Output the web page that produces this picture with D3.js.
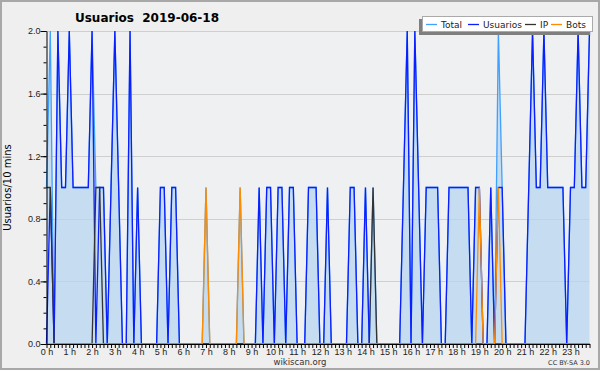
<!DOCTYPE html>
<html>
<head>
<meta charset="utf-8">
<script src="https://cdn.jsdelivr.net/npm/d3@7"></script>
<style>
  body { margin: 0; background: #efefef; }
  svg { display: block; font-family: "DejaVu Sans", sans-serif; }
</style>
</head>
<body>
<div class="chart"></div>
<script>
// editors per 10 minutes, 144 slots (0:00 .. 23:50)
const total = [
  1,2,0,2,1,1,2,1,1,1,1,1,
  2,1,1,1,0,1,2,1,0,0,2,0,
  1,0,0,0,0,0,1,1,0,1,1,0,
  0,0,0,0,0,0,1,0,0,0,0,0,
  0,0,0,1,0,0,0,0,1,0,1,1,
  0,1,1,0,1,1,0,0,0,1,1,1,
  0,0,1,0,0,0,0,0,1,1,0,0,
  1,0,1,0,0,0,0,0,0,0,1,2,
  0,2,1,0,1,1,1,1,0,0,1,1,
  1,1,1,1,0,1,1,0,0,1,0,2,
  1,0,0,0,0,0,0,1,2,1,1,2,
  1,1,1,1,1,0,1,1,2,1,1,2
];
const usuarios = [
  0,1,0,2,1,1,2,1,1,1,1,1,
  2,0,1,1,0,1,2,1,0,0,2,0,
  1,0,0,0,0,0,1,1,0,1,1,0,
  0,0,0,0,0,0,0,0,0,0,0,0,
  0,0,0,0,0,0,0,0,1,0,1,1,
  0,1,1,0,1,1,0,0,0,1,1,1,
  0,0,1,0,0,0,0,0,1,1,0,0,
  1,0,0,0,0,0,0,0,0,0,1,2,
  0,2,1,0,1,1,1,1,0,0,1,1,
  1,1,1,1,0,1,1,0,0,1,0,1,
  1,0,0,0,0,0,0,1,2,1,1,2,
  1,1,1,1,1,0,1,1,2,1,1,2
];
const ip = [
  1,1,0,0,0,0,0,0,0,0,0,0,
  0,1,1,0,0,0,0,0,0,0,0,0,
  0,0,0,0,0,0,0,0,0,0,0,0,
  0,0,0,0,0,0,0,0,0,0,0,0,
  0,0,0,0,0,0,0,0,0,0,0,0,
  0,0,0,0,0,0,0,0,0,0,0,0,
  0,0,0,0,0,0,0,0,0,0,0,0,
  0,0,1,0,0,0,0,0,0,0,0,0,
  0,0,0,0,0,0,0,0,0,0,0,0,
  0,0,0,0,0,0,0,0,0,0,0,0,
  0,0,0,0,0,0,0,0,0,0,0,0,
  0,0,0,0,0,0,0,0,0,0,0,0
];
const bots = [
  0,0,0,0,0,0,0,0,0,0,0,0,
  0,0,0,0,0,0,0,0,0,0,0,0,
  0,0,0,0,0,0,0,0,0,0,0,0,
  0,0,0,0,0,0,1,0,0,0,0,0,
  0,0,0,1,0,0,0,0,0,0,0,0,
  0,0,0,0,0,0,0,0,0,0,0,0,
  0,0,0,0,0,0,0,0,0,0,0,0,
  0,0,0,0,0,0,0,0,0,0,0,0,
  0,0,0,0,0,0,0,0,0,0,0,0,
  0,0,0,0,0,0,1,0,0,0,0,1,
  0,0,0,0,0,0,0,0,0,0,0,0,
  0,0,0,0,0,0,0,0,0,0,0,0
];
const hourLabels = ["0 h","1 h","2 h","3 h","4 h","5 h","6 h","7 h","8 h","9 h","10 h","11 h",
  "12 h","13 h","14 h","15 h","16 h","17 h","18 h","19 h","20 h","21 h","22 h","23 h"];
const yTicks = [0, 0.4, 0.8, 1.2, 1.6, 2.0];
const legendNames = ["Total", "Usuarios", "IP", "Bots"];
const colors = ["#3fa0ff", "#0a1eff", "#333333", "#ff8c00"];

const width = 600, height = 370;
const margin = { top: 31, left: 46.5, bottom: 26, right: 10.5 };

const svg = d3.select(".chart").append("svg")
  .attr("width", width)
  .attr("height", height);

// background + frame
svg.append("rect")
  .attr("x", 1).attr("y", 1).attr("width", width - 2).attr("height", height - 2)
  .attr("fill", "#efefef").attr("stroke", "#a8a8a8").attr("stroke-width", 2);

const x = d3.scaleLinear().domain([0, 143]).range([margin.left, width - margin.right]);
const y = d3.scaleLinear().domain([0, 2]).range([height - margin.bottom, margin.top]);

// plot area
svg.append("rect")
  .attr("x", x(0)).attr("y", y(2))
  .attr("width", x(143) - x(0)).attr("height", y(0) - y(2))
  .attr("fill", "#eff0f2");

const idx = d3.range(total.length);

// area under total
const area = d3.area()
  .x(i => x(i))
  .y0(y(0))
  .y1(i => y(total[i]));
svg.append("path")
  .datum(idx)
  .attr("fill", "#c6ddf1")
  .attr("d", area);

// grid lines
svg.append("g")
  .selectAll("line")
  .data(yTicks.filter(d => d > 0))
  .join("line")
  .attr("x1", x(0)).attr("x2", x(143))
  .attr("y1", d => Math.round(y(d)) + 0.5).attr("y2", d => Math.round(y(d)) + 0.5)
  .attr("stroke", "#cfcfcf").attr("stroke-width", 1);

// series lines
const series = [total, usuarios, ip, bots];
series.forEach((s, k) => {
  const line = d3.line().x(i => x(i)).y(i => y(s[i]));
  svg.append("path")
    .datum(idx)
    .attr("fill", "none")
    .attr("stroke", colors[k])
    .attr("stroke-width", 1.3)
    .attr("d", line);
});

// y axis: minor ticks then major ticks with labels
svg.append("g")
  .attr("transform", `translate(${x(0)},0)`)
  .call(d3.axisLeft(y).tickValues(d3.range(0, 2.01, 0.1)).tickSize(3).tickSizeOuter(0).tickFormat(""))
  .call(g => g.select(".domain").remove());
const yAxis = svg.append("g")
  .attr("transform", `translate(${x(0)},0)`)
  .call(d3.axisLeft(y).tickValues(yTicks).tickSize(6).tickSizeOuter(0).tickFormat(d3.format(".1f")));
yAxis.selectAll("text").attr("font-size", 9).attr("fill", "#222").attr("x", -6);

// x axis
const xAxis = svg.append("g")
  .attr("transform", `translate(0,${y(0)})`)
  .call(d3.axisBottom(x).tickValues(idx).tickSize(4).tickSizeOuter(0)
    .tickFormat(i => i % 6 === 0 ? hourLabels[i / 6] : ""));
xAxis.selectAll("text").attr("font-size", 9).attr("fill", "#222").attr("y", 5);

svg.selectAll(".domain, .tick line").attr("stroke", "#000");

// titles
svg.append("text")
  .attr("x", 147).attr("y", 22)
  .attr("text-anchor", "middle")
  .attr("font-size", 12).attr("font-weight", "bold")
  .attr("xml:space", "preserve")
  .text("Usuarios  2019-06-18");

svg.append("text")
  .attr("transform", `translate(11,${(y(0) + y(2)) / 2}) rotate(-90)`)
  .attr("text-anchor", "middle")
  .attr("font-size", 10)
  .text("Usuarios/10 mins");

svg.append("text")
  .attr("x", 300).attr("y", 365)
  .attr("text-anchor", "middle")
  .attr("font-size", 8.5).attr("fill", "#333")
  .text("wikiscan.org");

svg.append("text")
  .attr("x", 590).attr("y", 365)
  .attr("text-anchor", "end")
  .attr("font-size", 6.5).attr("fill", "#333")
  .text("CC BY-SA 3.0");

// legend
const legend = svg.append("g");
legend.append("rect")
  .attr("x", 419).attr("y", 19).attr("width", 171).attr("height", 16)
  .attr("fill", "#7f7f7f");
legend.append("rect")
  .attr("x", 422.5).attr("y", 16.5).attr("width", 170).attr("height", 15)
  .attr("fill", "#fff").attr("stroke", "#aaa");
const legendX = [426, 468, 525, 551];
legendNames.forEach((name, k) => {
  legend.append("line")
    .attr("x1", legendX[k]).attr("x2", legendX[k] + 11)
    .attr("y1", 24.5).attr("y2", 24.5)
    .attr("stroke", colors[k]).attr("stroke-width", 1.3);
  legend.append("text")
    .attr("x", legendX[k] + 15).attr("y", 28)
    .attr("font-size", 9).attr("fill", "#222")
    .text(name);
});
</script>
</body>
</html>
